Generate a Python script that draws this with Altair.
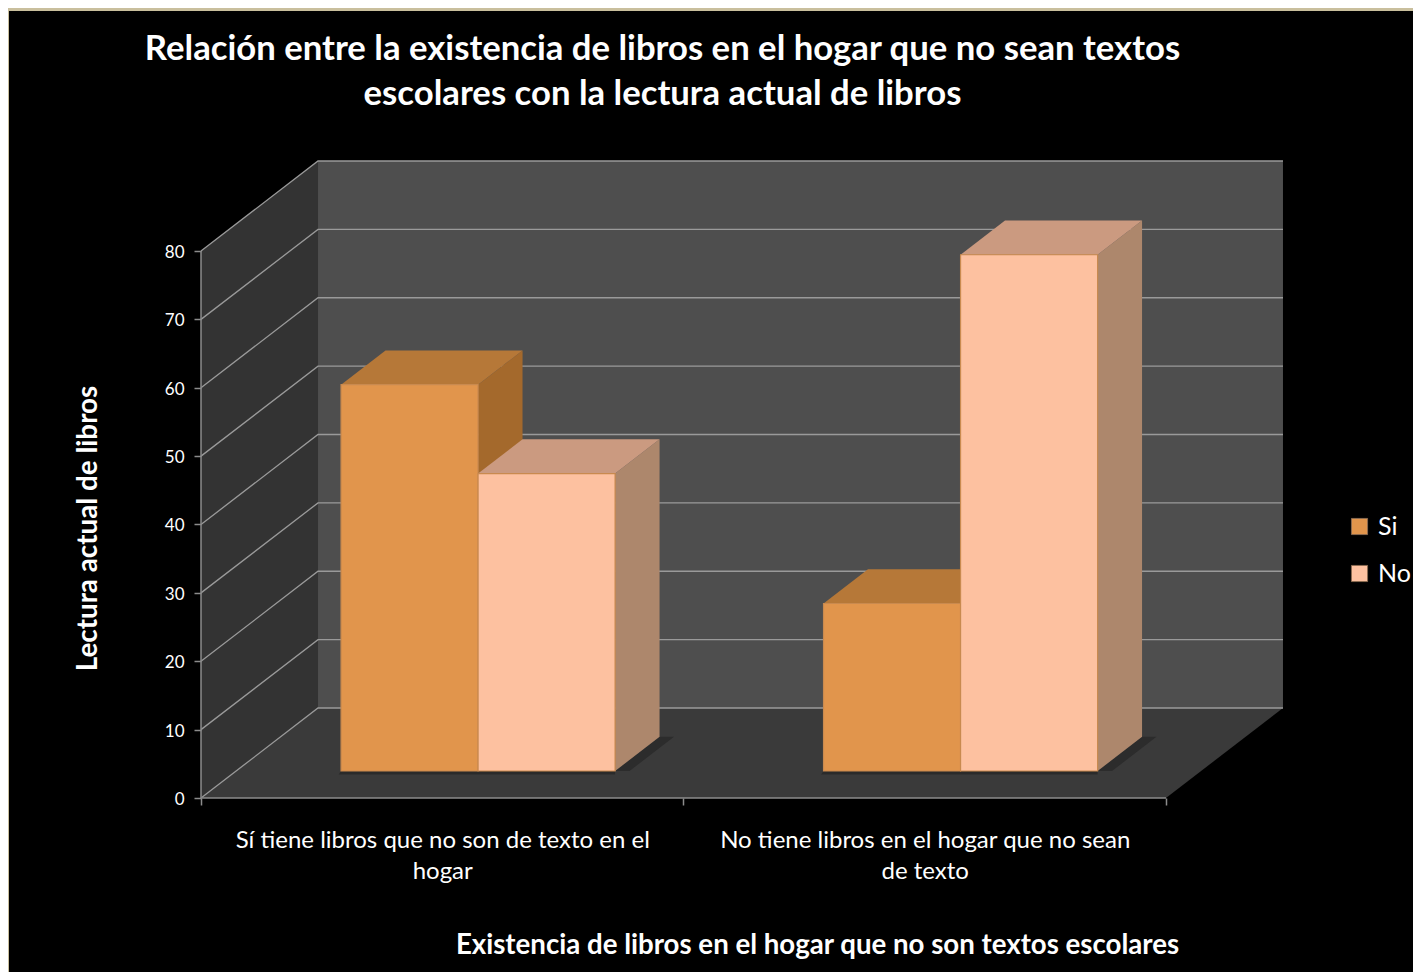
import json
import altair as alt
import pandas as pd

title_lines = ["Relación entre la existencia de libros en el hogar que no sean textos",
               "escolares con la lectura actual de libros"]
y_title = "Lectura actual de libros"
x_title = "Existencia de libros en el hogar que no son textos escolares"
cat_labels = [["Sí tiene libros que no son de texto en el", "hogar"],
              ["No tiene libros en el hogar que no sean", "de texto"]]
series = ["Si", "No"]
values_si = [56.5, 24.5]
values_no = [43.5, 75.5]
y_ticks = [0, 10, 20, 30, 40, 50, 60, 70, 80]

front_colors = ["#e1954c", "#fdc1a0"]
top_colors = ["#b67838", "#cb9a80"]
side_colors = ["#a4692c", "#ad876c"]

# oblique projection of the 3-D scene
DX, DY = 0.2425, 13.16      # wall depth, in category and value units
D0, D1 = 0.30, 0.68         # depth range of the bars
BAR_W = 0.284
GAP = 0.2175
X_MAX, Y_MAX = 2.2446, 93.16


def px(c, d):
    return c + d * DX


def py(v, d):
    return v + d * DY


x_enc = alt.X("x:Q", scale=alt.Scale(domain=[0, X_MAX], nice=False, zero=False),
              axis=alt.Axis(
                  values=[0, 0.5, 1, 1.5, 2], title=x_title, domain=False, grid=False,
                  labelExpr="datum.value==0.5?" + json.dumps(cat_labels[0]) +
                            ":datum.value==1.5?" + json.dumps(cat_labels[1]) + ":''",
                  labelFlush=False, labelOverlap=False, labelFont="Lato", labelFontSize=24,
                  labelColor="#ffffff", labelPadding=23, labelLineHeight=31, labelBaseline="top",
                  labelLimit=700,
                  tickColor="#8c8c8c", tickSize=7, tickWidth=1.5,
                  tickOpacity=alt.expr("datum.value%1==0?1:0"),
                  titleFont="Lato", titleFontSize=27.65, titleFontWeight="bold", titleColor="#ffffff",
                  titleX=616, titleY=147, titleBaseline="middle", zindex=1))
y_enc = alt.Y("y:Q", scale=alt.Scale(domain=[0, Y_MAX], nice=False, zero=False),
              axis=alt.Axis(
                  values=y_ticks, title=y_title, domain=False, grid=False,
                  labelFont="Lato", labelFontSize=17, labelColor="#ffffff", labelPadding=10,
                  labelOffset=1.5,
                  tickColor="#8c8c8c", tickSize=7, tickWidth=1.5,
                  titleFont="Lato", titleFontSize=27.8, titleFontWeight="bold", titleColor="#ffffff",
                  titleX=-113, titleY=367, titleBaseline="middle", zindex=1))


def vert_face(x0, x1, lo0, hi0, lo1, hi1, color, **kw):
    df = pd.DataFrame({"x": [x0, x1], "y": [lo0, lo1], "y2": [hi0, hi1]})
    return alt.Chart(df).mark_area(color=color, **kw).encode(x=x_enc, y=y_enc, y2="y2:Q")


def horiz_face(y0, y1, l0, r0, l1, r1, color, **kw):
    df = pd.DataFrame({"y": [y0, y1], "x": [l0, l1], "x2": [r0, r1]})
    return alt.Chart(df).mark_area(color=color, orient="horizontal", **kw).encode(
        x=x_enc, x2="x2:Q", y=y_enc)


layers = []

# black slide panel
layers.append(alt.Chart(pd.DataFrame({"a": [0]})).mark_rect(color="#000000").encode(
    x=alt.value(-192), x2=alt.value(1212), y=alt.value(-150), y2=alt.value(811)))

# walls and floor
layers.append(vert_face(px(0, 0), px(0, 1), py(0, 0), py(80, 0), py(0, 1), py(80, 1), "#333333"))
layers.append(vert_face(px(0, 1), px(2, 1), py(0, 1), py(80, 1), py(0, 1), py(80, 1), "#4e4e4e"))
layers.append(horiz_face(py(0, 0), py(0, 1), px(0, 0), px(2, 0), px(0, 1), px(2, 1), "#3a3a3a"))

# grid lines on the walls
grid = []
for v in y_ticks:
    for x, y in [(px(0, 0), py(v, 0)), (px(0, 1), py(v, 1)), (px(2, 1), py(v, 1))]:
        grid.append({"x": x, "y": y, "g": v})
layers.append(alt.Chart(pd.DataFrame(grid)).mark_line(color="#9a9a9a", strokeWidth=1.3).encode(
    x=x_enc, y=y_enc, detail="g:N"))

# axis lines
axis_lines = pd.DataFrame({"x": [0, 0, 2], "y": [80, 0, 0]})
layers.append(alt.Chart(axis_lines).mark_line(color="#8c8c8c", strokeWidth=1.5).encode(x=x_enc, y=y_enc))

# floor shadows
for c in (0, 1):
    left = c + GAP
    right = left + 2 * BAR_W
    layers.append(horiz_face(py(0, D0 - 0.04), py(0, D0), px(left, D0 - 0.02), px(right, D0),
                             px(left, D0), px(right, D0), "#2a2a2a"))
    layers.append(horiz_face(py(0, D0), py(0, D1), px(right, D0), px(right + 0.03, D0),
                             px(right, D1), px(right + 0.03, D1), "#2c2c2c"))

# bars, back faces first
rows = []
for c in (0, 1):
    for s, vals in enumerate((values_si, values_no)):
        v = vals[c]
        x0 = c + GAP + s * BAR_W
        x1 = x0 + BAR_W
        # side face
        layers.append(vert_face(px(x1, D0), px(x1, D1), py(0, D0), py(v, D0), py(0, D1), py(v, D1),
                                side_colors[s]))
        # top face
        layers.append(horiz_face(py(v, D0), py(v, D1), px(x0, D0), px(x1, D0), px(x0, D1), px(x1, D1),
                                 top_colors[s]))
        rows.append({"x": px(x0, D0), "x2": px(x1, D0), "y": py(0, D0), "y2": py(v, D0),
                     "Serie": series[s]})

layers.append(alt.Chart(pd.DataFrame(rows)).mark_rect(strokeWidth=1.2, stroke="#c98a4f").encode(
    x=x_enc, x2="x2:Q", y=y_enc, y2="y2:Q",
    color=alt.Color("Serie:N", scale=alt.Scale(domain=series, range=front_colors),
                    legend=alt.Legend(
                        title=None, orient="none", legendX=1146, legendY=353,
                        symbolType="square", symbolSize=260, symbolStrokeColor="#8a6a50",
                        symbolStrokeWidth=1, labelFont="Lato", labelFontSize=25,
                        labelColor="#ffffff", labelOffset=6, rowPadding=21, labelLimit=100))))

chart = alt.layer(*layers).properties(
    width=1083, height=637,
    padding={"left": 193, "top": 153, "right": 129, "bottom": 174},
    autosize=alt.AutoSizeParams(type="none"),
    background="#c9bf9d",
    title=alt.TitleParams(text=title_lines, font="Lato", fontSize=34.7, fontWeight="bold",
                          color="#ffffff", anchor="middle", dx=-80, offset=-102, lineHeight=45),
).configure_view(stroke=None)

chart.save("out.html", embed_options={"renderer": "svg", "actions": False})
